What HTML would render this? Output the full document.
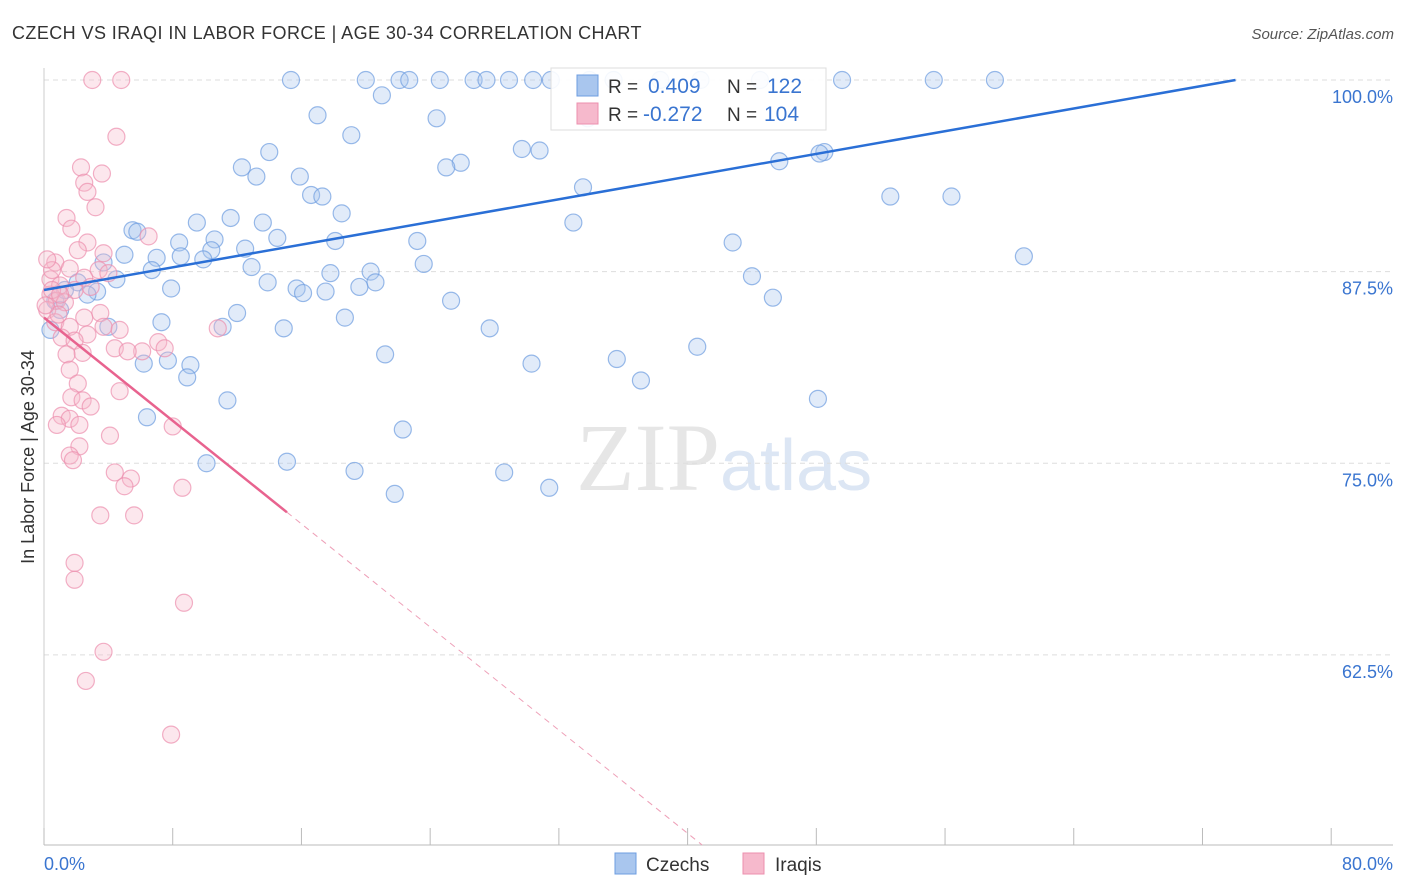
<!DOCTYPE html>
<html><head><meta charset="utf-8">
<style>
body{margin:0;background:#fff;font-family:"Liberation Sans",sans-serif;}
svg{display:block}
</style></head>
<body>
<svg id="chart" width="1406" height="892">
<text x="12" y="39" font-size="18" fill="#333" letter-spacing="0.42">CZECH VS IRAQI IN LABOR FORCE | AGE 30-34 CORRELATION CHART</text>
<text x="1394" y="39" font-size="15" fill="#555" font-style="italic" text-anchor="end">Source: ZipAtlas.com</text>
<text x="720" y="490" font-size="96" fill="#e6e6e6" text-anchor="end" font-family="Liberation Serif">ZIP</text>
<text x="720" y="490" font-size="72" fill="#dce6f4">atlas</text>
<g id="grid"></g><g id="marks"></g><g id="lines"></g>
<text transform="translate(34,457) rotate(-90)" font-size="18" fill="#333" text-anchor="middle">In Labor Force | Age 30-34</text>
<text x="44" y="870" font-size="18" fill="#3a75d0">0.0%</text>
<text x="1393" y="870" font-size="18" fill="#3a75d0" text-anchor="end">80.0%</text>
<g>
<rect x="551" y="68" width="275" height="62" fill="#fff" fill-opacity="0.9" stroke="#ddd"/>
<rect x="577" y="75" width="21" height="21" fill="#a9c6ee" stroke="#6d9de0"/>
<rect x="577" y="103" width="21" height="21" fill="#f6b9cc" stroke="#ec8fae"/>
<text x="608" y="93" font-size="19" fill="#333">R = </text><text x="648" y="93" font-size="21" fill="#3a75d0">0.409</text>
<text x="727" y="93" font-size="19" fill="#333">N = </text><text x="767" y="93" font-size="21" fill="#3a75d0">122</text>
<text x="608" y="121" font-size="19" fill="#333">R = </text><text x="643" y="121" font-size="21" fill="#3a75d0">-0.272</text>
<text x="727" y="121" font-size="19" fill="#333">N = </text><text x="764" y="121" font-size="21" fill="#3a75d0">104</text>
</g>
<g>
<rect x="615" y="853" width="21" height="21" fill="#a9c6ee" stroke="#6d9de0"/>
<text x="646" y="871" font-size="19" fill="#333">Czechs</text>
<rect x="743" y="853" width="21" height="21" fill="#f6b9cc" stroke="#ec8fae"/>
<text x="775" y="871" font-size="19" fill="#333">Iraqis</text>
</g>
</svg>
<script>
const yTicks=[100,87.5,75,62.5];
const yTickLabels=["100.0%","87.5%","75.0%","62.5%"];
const xTicks=[0,8,16,24,32,40,48,56,64,72,80];
const czechX=[15.35,20,22.1,22.7,24.6,26.7,27.5,28.9,30.4,31.5,33.9,35.4,38.3,40.8,44.5,49.6,55.3,59.1,21,17,24.4,19.1,29.7,30.8,14,48.5,48.2,25.9,25,45.7,12.3,13.2,15.9,33.5,16.6,17.3,52.6,56.4,18.5,11.6,9.5,13.6,32.9,5.5,5.8,14.5,18.1,8.4,23.2,10.6,42.8,12.5,10.4,5,7,8.5,9.9,60.9,23.6,3.7,6.7,12.9,20.3,17.8,44,13.9,20.6,4.5,2.1,7.9,15.7,16.1,17.5,19.6,3.3,2.7,25.3,45.3,12,18.7,7.3,4,14.9,27.7,11.1,40.6,21.2,35.6,7.7,30.3,9.1,6.2,8.9,37.1,11.4,48.1,6.4,22.3,10.1,15.1,19.3,28.6,21.8,31.4,0.7,1,0.4,1.3,33.8];
const czechY=[100,100,100,100,100,100,100,100,100,100,100,100,100,100,100,100,100,100,99,97.7,97.5,96.4,95.5,95.4,95.3,95.3,95.2,94.6,94.3,94.7,94.3,93.7,93.7,93,92.5,92.4,92.4,92.4,91.3,91,90.7,90.7,90.7,90.2,90.1,89.7,89.5,89.4,89.5,89.6,89.4,89,88.9,88.6,88.4,88.5,88.3,88.5,88,88.1,87.6,87.8,87.5,87.4,87.2,86.8,86.8,87,86.8,86.4,86.4,86.1,86.2,86.5,86.2,86,85.6,85.8,84.8,84.5,84.2,83.9,83.8,83.8,83.9,82.6,82.1,81.8,81.7,81.5,81.4,81.5,80.6,80.4,79.1,79.2,78,77.2,75,75.1,74.5,74.4,73,73.4,85.6,85,83.7,86.3,97.5];
const iraqiX=[3,4.8,4.5,2.3,3.6,2.5,2.7,3.2,1.4,1.7,6.5,2.7,2.1,3.7,0.7,1.6,3.4,2.5,4,0.4,1,1.9,2.9,0.4,0.8,1.3,0.2,3.5,2.5,0.7,1.6,3.7,4.7,10.8,2.7,1.1,1.9,7.1,4.4,6.1,7.5,5.2,2.4,1.4,1.6,2.1,4.7,1.7,2.4,2.9,1.1,1.6,0.8,2.2,8,4.1,2.2,1.6,1.8,4.4,5.4,5,8.6,3.5,5.6,1.9,1.9,8.7,3.7,2.6,7.9,0.5,0.9,0.1,1,0.5,0.2];
const iraqiY=[100,100,96.3,94.3,93.9,93.3,92.7,91.7,91,90.3,89.8,89.4,88.9,88.7,88.1,87.7,87.6,87.1,87.4,87,86.6,86.3,86.5,86,85.6,85.5,85,84.8,84.5,84.2,83.9,83.9,83.7,83.8,83.4,83.2,83,82.9,82.5,82.3,82.5,82.3,82.2,82.1,81.1,80.2,79.7,79.3,79.1,78.7,78.1,77.9,77.5,77.5,77.4,76.8,76.1,75.5,75.2,74.4,74,73.5,73.4,71.6,71.6,68.5,67.4,65.9,62.7,60.8,57.3,86.3,84.7,85.3,86,87.6,88.3];
const czechFit=[86.3,0.185];
const iraqiFit=[84.5,-0.841];
const iraqiSolidEnd=15.1;

const X=v=>44+v*16.09, Y=v=>80+(100-v)*15.33;
const NS="http://www.w3.org/2000/svg";
function mk(tag,attrs,parent){const e=document.createElementNS(NS,tag);for(const k in attrs)e.setAttribute(k,attrs[k]);parent.appendChild(e);return e;}
const grid=document.getElementById('grid'),marks=document.getElementById('marks'),lines=document.getElementById('lines');
yTicks.forEach((t,i)=>{
  const l=mk('line',{x1:44,x2:1393,y1:Y(t),y2:Y(t),stroke:'#ddd','stroke-dasharray':'5,4'},grid);
  
  
  const tx=mk('text',{x:1393,y:Y(t)+23,'font-size':18,fill:'#3a75d0','text-anchor':'end'},grid);
  tx.textContent=yTickLabels[i];
  
  
});
const ax=mk('line',{x1:44,x2:1393,y1:845,y2:845,stroke:'#bbb'},grid);


const ay=mk('line',{x1:44,x2:44,y1:68,y2:845,stroke:'#ccc'},grid);


xTicks.forEach(t=>{
  const l=mk('line',{x1:X(t),x2:X(t),y1:828,y2:845,stroke:'#bbb'},grid);
  
  
});
function pts(xs,ys,fill,stroke,name){xs.forEach((x,i)=>{
  const c=mk('circle',{cx:X(x),cy:Y(ys[i]),r:8.5,fill:fill,'fill-opacity':0.35,stroke:stroke,'stroke-opacity':0.7,'stroke-width':1.2},marks);
  
  
});}
pts(czechX,czechY,'#a9c6ee','#6d9de0','czech-point');
pts(iraqiX,iraqiY,'#f6b9cc','#ec8fae','iraqi-point');
const cEnd=(100-czechFit[0])/czechFit[1];
const bl=mk('line',{x1:X(0),y1:Y(czechFit[0]),x2:X(cEnd),y2:Y(100),stroke:'#2a6fd6','stroke-width':2.5},lines);


const iy=x=>iraqiFit[0]+iraqiFit[1]*x;
const pl=mk('line',{x1:X(0),y1:Y(iy(0)),x2:X(iraqiSolidEnd),y2:Y(iy(iraqiSolidEnd)),stroke:'#e8638f','stroke-width':2.5},lines);


const dEnd=(iraqiFit[0]-50.1)/(-iraqiFit[1]);
const pd=mk('line',{x1:X(iraqiSolidEnd),y1:Y(iy(iraqiSolidEnd)),x2:X(dEnd),y2:Y(iy(dEnd)),stroke:'#eea0b8','stroke-width':1,'stroke-dasharray':'6,5'},lines);


</script>
</body></html>
